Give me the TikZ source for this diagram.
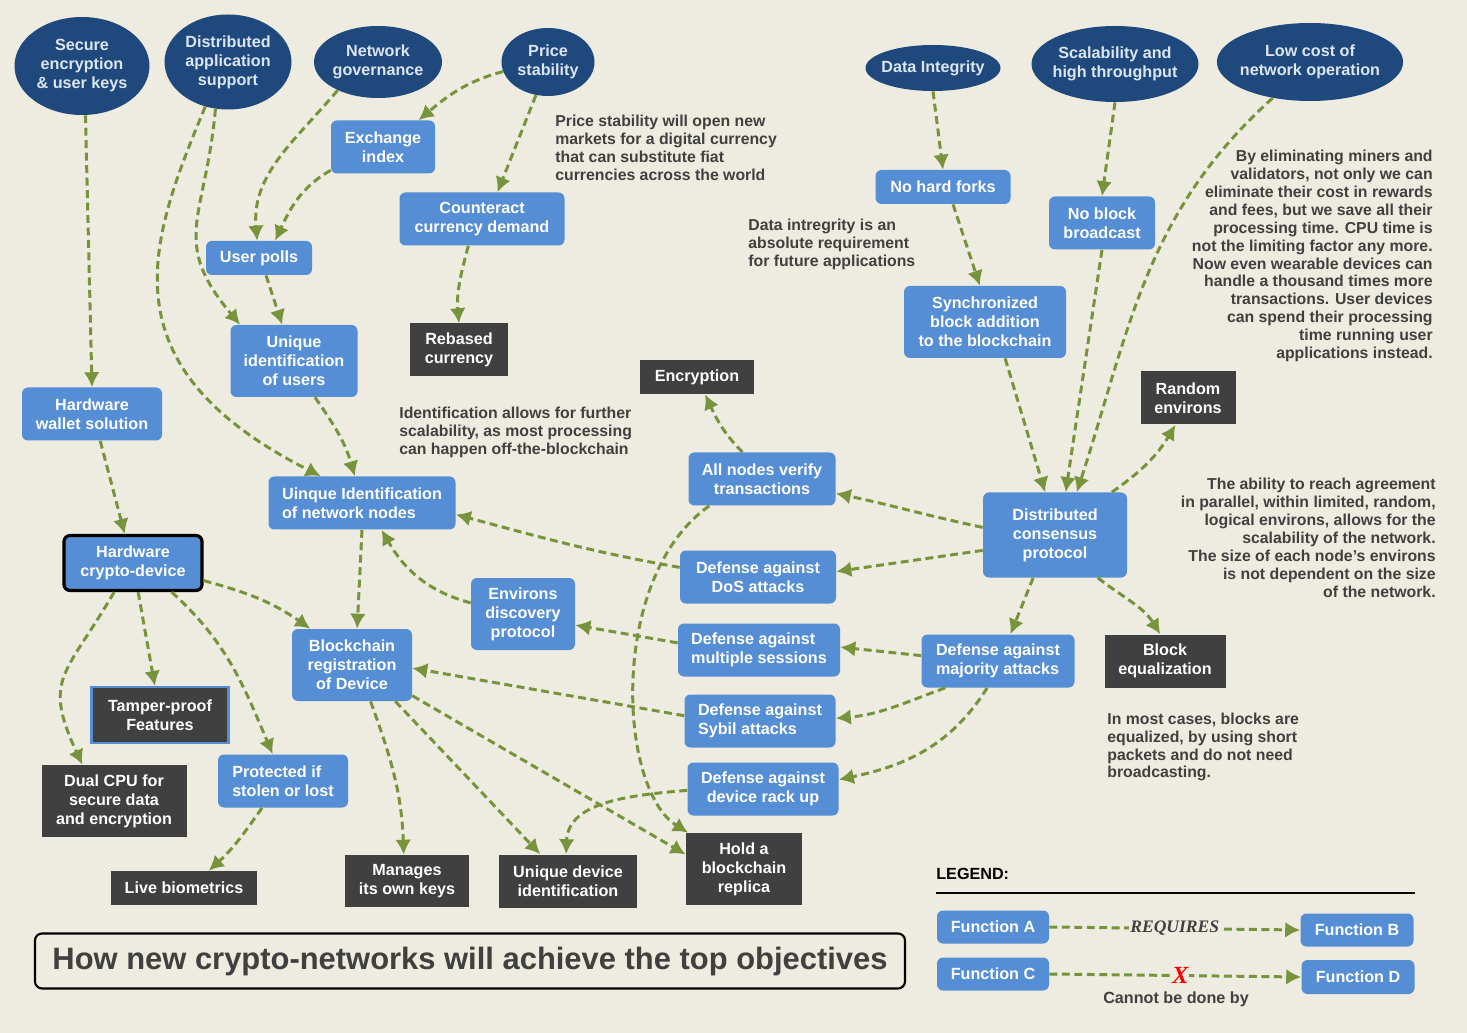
\documentclass[tikz,border=0pt]{standalone}
\usepackage{fontspec}
\setmainfont{Liberation Sans}
\newfontfamily\legendserif{Liberation Serif}
\usepackage{tikz}
\usetikzlibrary{shapes}
\usetikzlibrary{arrows.meta}

\definecolor{bg}{HTML}{EEEBE0}
\definecolor{objblue}{HTML}{1F497D}
\definecolor{objtext}{HTML}{DCE6F2}
\definecolor{fnblue}{HTML}{558ED5}
\definecolor{techgray}{HTML}{404040}
\definecolor{linkgreen}{HTML}{77933C}

\newcommand{\boxfont}{\bfseries\fontsize{9.2}{10.8}\selectfont}
\newcommand{\notefont}{\bfseries\fontsize{9}{10.2}\selectfont}

\tikzset{
  objective/.style={ellipse, fill=objblue, text=objtext, font=\boxfont, align=center, inner xsep=-2.4pt, inner ysep=0pt},
  fn/.style={rectangle, rounded corners=3.4pt, fill=fnblue, text=white, font=\boxfont, align=center, inner sep=0pt},
  tech/.style={rectangle, fill=techgray, text=white, font=\boxfont, align=center, inner sep=0pt},
  note/.style={text=techgray, font=\notefont, inner sep=0pt},
  link/.style={->, draw=linkgreen, line width=1.7pt, dash pattern=on 4.5pt off 2.6pt},
  boxsize/.style 2 args={minimum width=#1*0.02cm, minimum height=#2*0.02cm},
}

\begin{document}
\begin{tikzpicture}[x=0.02cm, y=0.02cm, >={Latex[length=8.5pt,width=9pt]}]
\fill[bg] (0,0) rectangle (1467,-1033);
\useasboundingbox (0,0) rectangle (1467,-1033);

% objectives
\node[name=e_secure, objective, boxsize={135}{98}] at (82,-66) {Secure\\encryption\\\& user keys};
\node[name=e_distapp, objective, boxsize={127}{95}] at (228,-62) {Distributed\\application\\support};
\node[name=e_governance, objective, boxsize={128}{72}] at (378,-62) {Network\\governance};
\node[name=e_price, objective, boxsize={93}{68}] at (548,-62) {Price\\stability};
\node[name=e_integrity, objective, boxsize={135}{46}] at (933,-68) {Data Integrity};
\node[name=e_scalability, objective, boxsize={167}{76}] at (1115,-64) {Scalability and\\high throughput};
\node[name=e_lowcost, objective, boxsize={186}{78}] at (1310,-62) {Low cost of\\network operation};

% functions
\node[name=exchange_index, fn, boxsize={104}{53}] at (383,-147) {Exchange\\index};
\node[name=counteract, fn, boxsize={165}{53}] at (482,-219) {Counteract\\currency demand};
\node[name=user_polls, fn, boxsize={106}{34}] at (259,-258) {User polls};
\node[name=uniq_users, fn, boxsize={127}{72}] at (294,-361) {Unique\\identification\\of users};
\node[name=hw_wallet, fn, boxsize={140}{53}] at (92,-414) {Hardware\\wallet solution};
\node[name=uniq_nodes, fn, align=left, boxsize={187}{53}] at (362,-503) {Uinque Identification\\of network nodes};
\node[name=hw_device, fn, draw=black, line width=1.8pt, boxsize={138}{55}] at (133,-563) {Hardware\\crypto-device};
\node[name=bc_reg, fn, boxsize={120}{72}] at (352,-665) {Blockchain\\registration\\of Device};
\node[name=environs, fn, boxsize={104}{72}] at (523,-614) {Environs\\discovery\\protocol};
\node[name=all_nodes, fn, boxsize={147}{53}] at (762,-479) {All nodes verify\\transactions};
\node[name=def_dos, fn, boxsize={156}{53}] at (758,-577) {Defense against\\DoS attacks};
\node[name=def_multi, fn, align=left, boxsize={162}{53}] at (759,-650) {Defense against\\multiple sessions};
\node[name=def_sybil, fn, align=left, boxsize={151}{53}] at (760,-721) {Defense against\\Sybil attacks};
\node[name=def_rack, fn, boxsize={151}{53}] at (763,-789) {Defense against\\device rack up};
\node[name=no_forks, fn, boxsize={135}{34}] at (943,-187) {No hard forks};
\node[name=no_broadcast, fn, boxsize={106}{53}] at (1102,-223) {No block\\broadcast};
\node[name=sync_add, fn, boxsize={162}{72}] at (985,-322) {Synchronized\\block addition\\to the blockchain};
\node[name=consensus, fn, boxsize={144}{85}] at (1055,-535) {Distributed\\consensus\\protocol};
\node[name=def_majority, fn, align=left, boxsize={153}{53}] at (998,-661) {Defense against\\majority attacks};
\node[name=protected, fn, align=left, boxsize={130}{53}] at (283,-781) {Protected if\\stolen or lost};

% technologies
\node[name=rebased, tech, boxsize={98}{53}] at (459,-350) {Rebased\\currency};
\node[name=encryption, tech, boxsize={114}{34}] at (697,-377) {Encryption};
\node[name=random_env, tech, boxsize={95}{53}] at (1188,-398) {Random\\environs};
\node[name=block_eq, tech, boxsize={121}{53}] at (1165,-661) {Block\\equalization};
\node[name=tamper, tech, draw=fnblue, line width=1.2pt, boxsize={137}{56}] at (160,-715) {Tamper-proof\\Features};
\node[name=dual_cpu, tech, boxsize={145}{72}] at (114,-801) {Dual CPU for\\secure data\\and encryption};
\node[name=live_bio, tech, boxsize={146}{34}] at (184,-888) {Live biometrics};
\node[name=own_keys, tech, boxsize={124}{52}] at (407,-881) {Manages\\its own keys};
\node[name=uniq_device, tech, boxsize={138}{53}] at (568,-881) {Unique device\\identification};
\node[name=hold_replica, tech, boxsize={116}{72}] at (744,-869) {Hold a\\blockchain\\replica};

% notes
\node[name=price_note, note, anchor=west, align=left] at (555,-148) {Price stability will open new\\markets for a digital currency\\that can substitute fiat\\currencies across the world};
\node[name=integrity_note, note, anchor=west, align=left] at (748,-244) {Data intregrity is an\\absolute requirement\\for future applications};
\node[name=ident_note, note, anchor=west, align=left] at (399,-432) {Identification allows for further\\scalability, as most processing\\can happen off-the-blockchain};
\node[name=cost_note, note, anchor=east, align=right] at (1433,-256) {By eliminating miners and\\validators, not only we can\\eliminate their cost in rewards\\and fees, but we save all their\\processing time. CPU time is\\not the limiting factor any more.\\Now even wearable devices can\\handle a thousand times more\\transactions. User devices\\can spend their processing\\time running user\\applications instead.};
\node[name=environs_note, note, anchor=east, align=right] at (1436,-538) {The ability to reach agreement\\in parallel, within limited, random,\\logical environs, allows for the\\scalability of the network.\\The size of each node's environs\\is not dependent on the size\\of the network.};
\node[name=blockeq_note, note, anchor=west, align=left] at (1107,-747) {In most cases, blocks are\\equalized, by using short\\packets and do not need\\broadcasting.};

% title
\node[name=title, draw=black, line width=1.2pt, rounded corners=4pt, text=techgray, font=\bfseries\fontsize{17.6}{20}\selectfont, inner sep=0pt, boxsize={870}{55}] at (470,-961) {How new crypto-networks will achieve the top objectives};

% legend
\node[name=legend_head, anchor=west, font=\bfseries\fontsize{9.2}{10.8}\selectfont, inner sep=0pt] at (936,-874) {LEGEND:};
\draw[line width=1.1pt] (936,-893) -- (1415,-893);
\node[name=fn_a, fn, boxsize={112}{33}] at (993,-927) {Function A};
\node[name=fn_b, fn, boxsize={113}{33}] at (1357,-930) {Function B};
\node[name=fn_c, fn, boxsize={112}{33}] at (993,-974) {Function C};
\node[name=fn_d, fn, boxsize={113}{34}] at (1358,-977) {Function D};
\node[name=cannot_label, text=techgray, font=\bfseries\fontsize{9.2}{10.8}\selectfont, inner sep=0pt] at (1176,-999) {Cannot be done by};

% requires links
\draw(e_secure.274) edge[link](hw_wallet.north);
\draw[link](e_distapp.243) .. controls (150,-240) and (101,-365) .. (uniq_nodes.147);
\draw(e_distapp.255) edge[link, out=265, in=130, looseness=1.3](uniq_users.146);
\draw(e_governance.215) edge[link, out=230, in=95](user_polls.96);
\draw(exchange_index.204) edge[link, out=210, in=65](user_polls.47);
\draw(e_price.192) edge[link, out=195, in=40](exchange_index.37);
\draw(e_price.250) edge[link](counteract.60);
\draw(counteract.243) edge[link, out=255, in=95](rebased.north);
\draw(user_polls.292) edge[link](uniq_users.108);
\draw(uniq_users.300) edge[link, out=305, in=106](uniq_nodes.105);
\draw(hw_wallet.287) edge[link](hw_device.106);
\draw(hw_device.346) edge[link, out=-15, in=145](bc_reg.139);
\draw(hw_device.237) edge[link, out=240, in=115, looseness=1.4](dual_cpu.131);
\draw(hw_device.280) edge[link](tamper.100);
\draw(hw_device.323) edge[link, out=318, in=113](protected.111);
\draw(protected.232) edge[link, out=235, in=42](live_bio.35);
\draw(uniq_nodes.south) edge[link](bc_reg.82);
\draw(environs.168) edge[link, out=165, in=300](uniq_nodes.306);
\draw(consensus.174) edge[link, out=168, in=-12](all_nodes.349);
\draw(consensus.192) edge[link](def_dos.4);
\draw(def_dos.173) edge[link, out=170, in=-15](uniq_nodes.353);
\draw(all_nodes.126) edge[link, out=135, in=295](encryption.295);
\draw[link](all_nodes.207) .. controls (608,-577) and (618,-789) .. (hold_replica.147);
\draw(def_multi.175) edge[link](environs.348);
\draw(def_majority.176) edge[link](def_multi.2);
\draw(def_sybil.176) edge[link](bc_reg.357);
\draw(def_majority.207) edge[link, out=200, in=5](def_sybil.2);
\draw(def_majority.248) edge[link, out=238, in=12](def_rack.7);
\draw(def_rack.181) edge[link, out=185, in=88](uniq_device.94);
\draw(bc_reg.297) edge[link, out=290, in=92](own_keys.97);
\draw(bc_reg.320) edge[link](uniq_device.136);
\draw(bc_reg.333) edge[link](hold_replica.166);
\draw(consensus.243) edge[link](def_majority.65);
\draw(consensus.315) edge[link, out=322, in=122](block_eq.100);
\draw(consensus.37) edge[link, out=35, in=239](random_env.245);
\draw(e_integrity.south) edge[link](no_forks.north);
\draw(no_forks.300) edge[link](sync_add.98);
\draw(sync_add.299) edge[link](consensus.103);
\draw(e_scalability.south) edge[link](no_broadcast.north);
\draw(no_broadcast.south) edge[link](consensus.76);
\draw(e_lowcost.224) edge[link, out=222, in=72](consensus.63);

% legend links
\draw(fn_a.east) edge[link]node[fill=bg, inner sep=1pt, text=techgray, font=\legendserif\bfseries\itshape\fontsize{10}{12}\selectfont]{REQUIRES}(fn_b.west);
\draw(fn_c.east) edge[link]node[pos=0.52, fill=bg, inner sep=0.5pt, text=red, font=\legendserif\bfseries\itshape\fontsize{14}{16}\selectfont]{X}(fn_d.west);
\end{tikzpicture}
\end{document}
